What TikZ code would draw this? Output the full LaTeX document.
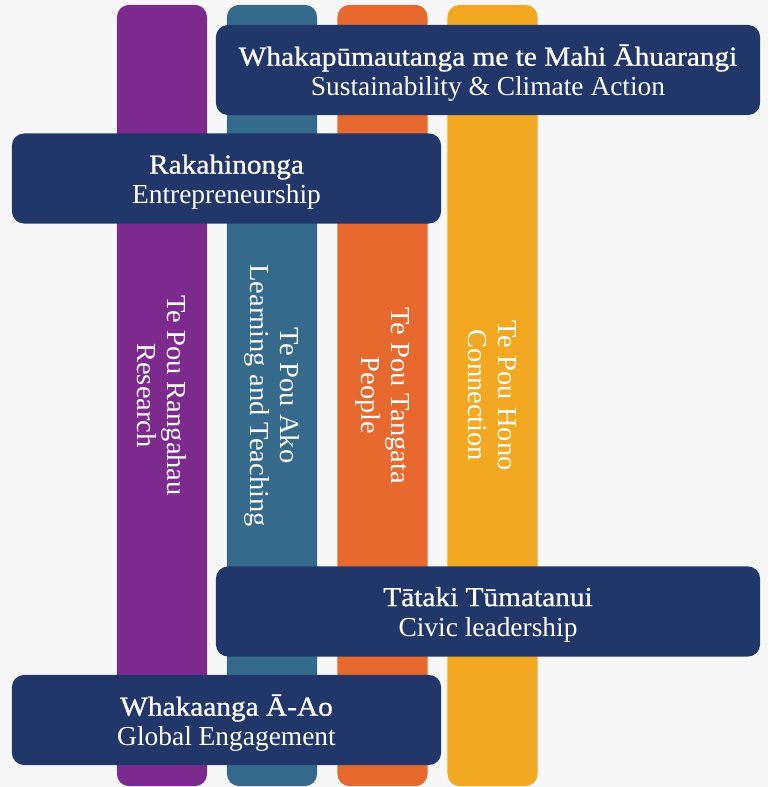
\documentclass[tikz,border=0pt]{standalone}
\usepackage{fontspec}
\setmainfont{Liberation Serif}
\newfontfamily\headfont{Liberation Serif}[FakeStretch=1.07,FakeBold=0.9]
\newfontfamily\poufont{Liberation Serif}[FakeStretch=1.04]
\definecolor{bggrey}{HTML}{F7F7F7}
\definecolor{pouPurple}{HTML}{7D2A8E}
\definecolor{pouTeal}{HTML}{366A8C}
\definecolor{pouOrange}{HTML}{E8692D}
\definecolor{pouYellow}{HTML}{F2A821}
\definecolor{barNavy}{HTML}{21376A}
\tikzset{
	pou/.style={rounded corners=0.3cm, minimum width=19.525cm, minimum height=2.25cm, inner sep=0pt, rotate=-90, text=white, align=center, font=\poufont\fontsize{19.5}{21.6}\selectfont},
	bar/.style={rounded corners=0.3cm, fill=barNavy, minimum height=2.25cm, inner sep=0pt},
	widebar/.style={bar, minimum width=13.6cm},
	shortbar/.style={bar, minimum width=10.725cm},
	bartext/.style={inner sep=0pt, text=white, align=center, font=\fontsize{19.5}{21.3}\selectfont}
}

\begin{document}
\begin{tikzpicture}[x=0.025cm, y=-0.025cm]
		%%%%% START %%%%%
		\fill[bggrey] (0, 0) rectangle (768, 787);
		\useasboundingbox (0, 0) rectangle (768, 787);
		
		% pou columns
		\node[pou, fill=pouPurple] (rangahau) at (162, 395.5) {Te Pou Rangahau\\Research};
		\node[pou, fill=pouTeal] (ako) at (272, 395.5) {Te Pou Ako\\Learning and Teaching};
		\node[pou, fill=pouOrange] (tangata) at (382.5, 395.5) {Te Pou Tangata\\People};
		\node[pou, fill=pouYellow] (hono) at (492.5, 395.5) {Te Pou Hono\\Connection};
		
		% navy bars across the pou
		\node[widebar] (ahuarangi) at (488, 70) {};
		\node[shortbar] (rakahinonga) at (226.5, 178.5) {};
		\node[widebar] (tumatanui) at (488, 611.5) {};
		\node[shortbar] (whakaanga) at (226.5, 720) {};
		
		\node[bartext] (ahuarangi-t) at (488, 73) {{\headfont Whakapūmautanga me te Mahi Āhuarangi}\\Sustainability \& Climate Action};
		\node[bartext] (rakahinonga-t) at (226.5, 182) {{\headfont Rakahinonga}\\Entrepreneurship};
		\node[bartext] (tumatanui-t) at (488, 614.5) {{\headfont Tātaki Tūmatanui}\\Civic leadership};
		\node[bartext] (whakaanga-t) at (226.5, 723) {{\headfont Whakaanga Ā-Ao}\\Global Engagement};
		%%%%% END %%%%%
	\end{tikzpicture}
\end{document}
